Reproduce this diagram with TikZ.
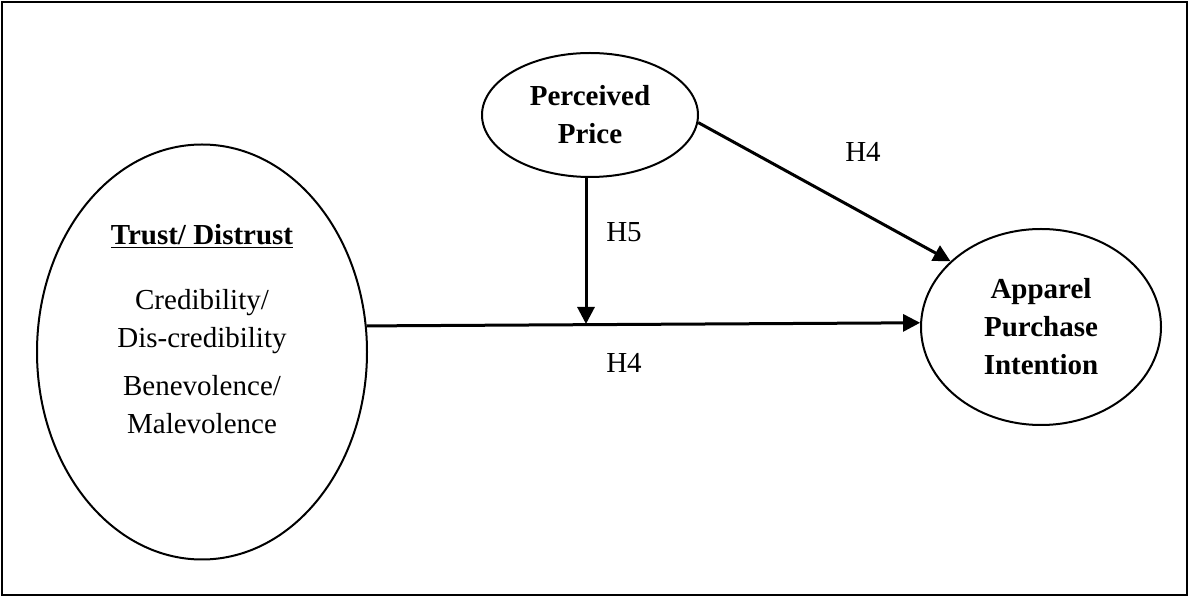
\documentclass[tikz,border=0pt]{standalone}
\usepackage{fontspec}
\setmainfont{Liberation Serif}
\usepackage{tikz}
\usetikzlibrary{shapes.geometric, arrows.meta}

\begin{document}
\begin{tikzpicture}[
    x=0.5pt, y=-0.5pt,
    oval/.style={ellipse, draw, line width=1pt, align=center, inner sep=0pt, font=\fontsize{14.5}{19}\selectfont\bfseries},
    arrow/.style={-{Triangle[length=8.5pt, width=8.5pt]}, line width=1.5pt},
    hyp/.style={font=\fontsize{14.5}{19}\selectfont}
]
    \useasboundingbox (0,0) rectangle (1190,598);
    \draw[line width=1.2pt] (2,2) rectangle (1187,595);

    \node[oval, minimum width=165pt, minimum height=207.5pt] (trust) at (202,352) {};
    \node[hyp, align=center] (trusttext) at (202,329) {\textbf{\underline{Trust/ Distrust}}\\[13.5pt] Credibility/\\ Dis-credibility\\[5pt] Benevolence/\\ Malevolence};
    \node[oval, minimum width=108pt, minimum height=62pt] (price) at (590,115) {Perceived\\Price};
    \node[oval, minimum width=120pt, minimum height=98pt] (appar) at (1041,327) {Apparel\\Purchase\\Intention};

    \coordinate (joint) at (586,324);
    \draw[arrow] (trust.9.7) -- (appar.178);
    \draw[arrow] (price.south -| joint) -- (joint);
    \draw[arrow] (price.-4) -- (appar.144);

    \node[hyp] (h4a) at (863,152) {H4};
    \node[hyp] (h5) at (624,232) {H5};
    \node[hyp] (h4b) at (624,363) {H4};
\end{tikzpicture}
\end{document}
